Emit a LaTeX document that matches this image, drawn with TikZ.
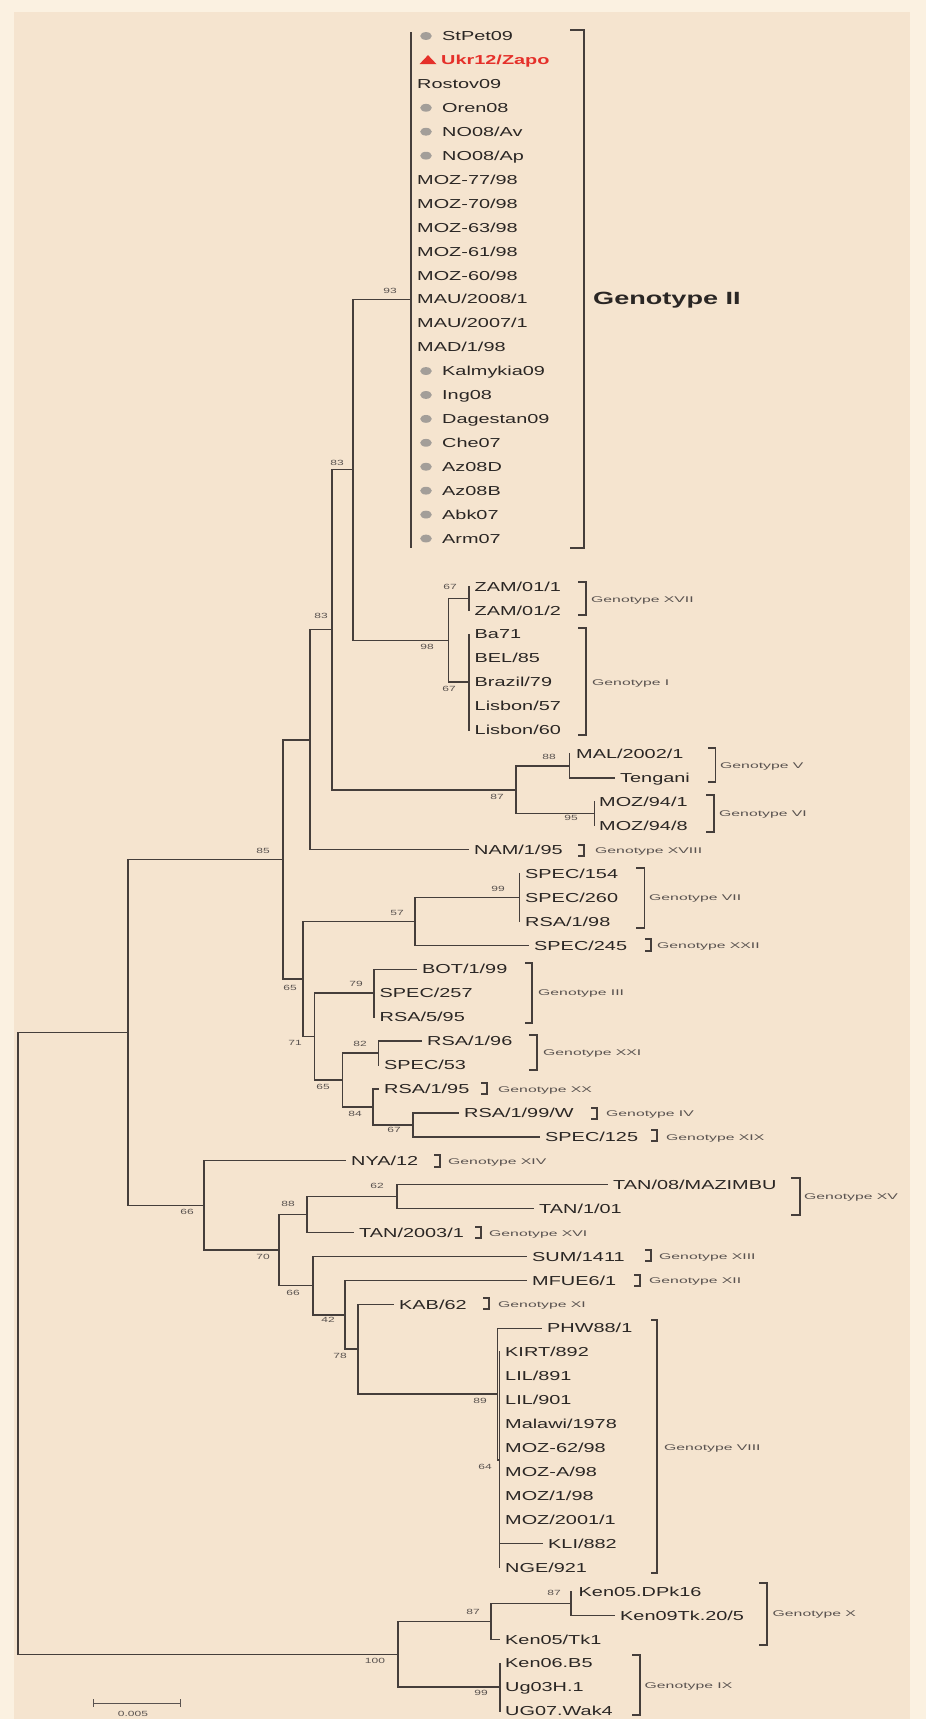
\documentclass[tikz,border=0pt]{standalone}
\usepackage{fontspec}
\setmainfont{Liberation Sans}
\newfontfamily\labf[FakeStretch=1.53]{Liberation Sans}
\newfontfamily\genf[FakeStretch=1.9]{Liberation Sans}
\newfontfamily\numf[FakeStretch=1.6]{Liberation Sans}
\usetikzlibrary{calc}
\definecolor{ln}{HTML}{453E3B}
\definecolor{tx}{HTML}{2A2624}
\definecolor{gy}{HTML}{5A5350}
\definecolor{dotc}{HTML}{A39E99}
\definecolor{redt}{HTML}{E5302A}
\definecolor{bgo}{HTML}{FBF1E1}
\definecolor{bgi}{HTML}{F5E4CF}
\newcommand\rowy[1]{36+23.93*(#1)}
\newcommand\Lf[4]{\node[leaf] (#1) at (#3,{\rowy{#2}}) {#4};}
\newcommand\Nd[3]{\coordinate (#1) at (#2,{\rowy{#3}});}
\newcommand\Vt[3]{\draw[br] (#1 |- #2) -- (#1 |- #3);}
\newcommand\Hz[2]{\draw[br] (#1 |- #2) -- (#2);}
\newcommand\Hl[2]{\draw[br] (#1 |- #2) -- ([xshift=-5.5pt]#2.west);}
\newcommand\Bk[4]{\draw[brk] (#4,#2) -- (#1,#2) -- (#1,#3) -- (#4,#3);}
\tikzset{
 br/.style={draw=ln, line width=1.45pt, line cap=rect},
 brk/.style={draw=ln, line width=1.4pt},
 leaf/.style={anchor=west, inner sep=0pt, text=tx, font=\labf\fontsize{13}{13}\selectfont, text height=9.4pt, text depth=0pt},
 gen/.style={anchor=west, inner sep=0pt, text=gy, font=\genf\fontsize{8.3}{8.3}\selectfont, text height=6pt, text depth=0pt},
 genbig/.style={anchor=west, inner sep=0pt, text=tx, font=\labf\bfseries\fontsize{17.7}{17.7}\selectfont, text height=12.7pt, text depth=0pt},
 sup/.style={inner sep=0pt, text=gy, font=\numf\fontsize{7.5}{7.5}\selectfont, text height=5.4pt, text depth=0pt},
}
\begin{document}
\begin{tikzpicture}[x=1pt,y=-1pt]
\useasboundingbox (0,0) rectangle (926,1719);
\fill[bgo] (0,0) rectangle (926,1719);
\fill[bgi] (14,12) rectangle (910,1719);

% ---------- leaves ----------
\Lf{g0}{0}{442}{StPet09}
\node[leaf, text=redt, font=\labf\bfseries\fontsize{13}{13}\selectfont] (g1) at (441,{\rowy{1}}) {Ukr12/Zapo};
\Lf{g2}{2}{417}{Rostov09}
\Lf{g3}{3}{442}{Oren08}
\Lf{g4}{4}{442}{NO08/Av}
\Lf{g5}{5}{442}{NO08/Ap}
\Lf{g6}{6}{417}{MOZ-77/98}
\Lf{g7}{7}{417}{MOZ-70/98}
\Lf{g8}{8}{417}{MOZ-63/98}
\Lf{g9}{9}{417}{MOZ-61/98}
\Lf{g10}{10}{417}{MOZ-60/98}
\Lf{g11}{11}{417}{MAU/2008/1}
\Lf{g12}{12}{417}{MAU/2007/1}
\Lf{g13}{13}{417}{MAD/1/98}
\Lf{g14}{14}{442}{Kalmykia09}
\Lf{g15}{15}{442}{Ing08}
\Lf{g16}{16}{442}{Dagestan09}
\Lf{g17}{17}{442}{Che07}
\Lf{g18}{18}{442}{Az08D}
\Lf{g19}{19}{442}{Az08B}
\Lf{g20}{20}{442}{Abk07}
\Lf{g21}{21}{442}{Arm07}
\Lf{zam1}{23}{474.5}{ZAM/01/1}
\Lf{zam2}{24}{474.5}{ZAM/01/2}
\Lf{ba71}{25}{474.5}{Ba71}
\Lf{bel}{26}{474.5}{BEL/85}
\Lf{bra}{27}{474.5}{Brazil/79}
\Lf{lis57}{28}{474.5}{Lisbon/57}
\Lf{lis60}{29}{474.5}{Lisbon/60}
\Lf{mal}{30}{576}{MAL/2002/1}
\Lf{teng}{31}{620}{Tengani}
\Lf{mza}{32}{599}{MOZ/94/1}
\Lf{mzb}{33}{599}{MOZ/94/8}
\Lf{nam}{34}{474}{NAM/1/95}
\Lf{sp154}{35}{525}{SPEC/154}
\Lf{sp260}{36}{525}{SPEC/260}
\Lf{rsa198}{37}{525}{RSA/1/98}
\Lf{sp245}{38}{534}{SPEC/245}
\Lf{bot}{39}{422}{BOT/1/99}
\Lf{sp257}{40}{379.5}{SPEC/257}
\Lf{rsa595}{41}{379.5}{RSA/5/95}
\Lf{rsa196}{42}{427}{RSA/1/96}
\Lf{sp53}{43}{384}{SPEC/53}
\Lf{rsa195}{44}{384}{RSA/1/95}
\Lf{rsaw}{45}{464}{RSA/1/99/W}
\Lf{sp125}{46}{545}{SPEC/125}
\Lf{nya}{47}{351}{NYA/12}
\Lf{tan08}{48}{613}{TAN/08/MAZIMBU}
\Lf{tan101}{49}{539}{TAN/1/01}
\Lf{tan03}{50}{359}{TAN/2003/1}
\Lf{sum}{51}{532}{SUM/1411}
\Lf{mfue}{52}{532}{MFUE6/1}
\Lf{kab}{53}{399}{KAB/62}
\Lf{phw}{54}{547}{PHW88/1}
\Lf{kirt}{55}{505}{KIRT/892}
\Lf{lil891}{56}{505}{LIL/891}
\Lf{lil901}{57}{505}{LIL/901}
\Lf{malawi}{58}{505}{Malawi/1978}
\Lf{moz62}{59}{505}{MOZ-62/98}
\Lf{moza}{60}{505}{MOZ-A/98}
\Lf{moz198}{61}{505}{MOZ/1/98}
\Lf{moz2001}{62}{505}{MOZ/2001/1}
\Lf{kli}{63}{548}{KLI/882}
\Lf{nge}{64}{505}{NGE/921}
\Lf{kdpk}{65}{578.5}{Ken05.DPk16}
\Lf{ktk20}{66}{620}{Ken09Tk.20/5}
\Lf{ktk1}{67}{505}{Ken05/Tk1}
\Lf{ken06}{68}{505}{Ken06.B5}
\Lf{ug03}{69}{505}{Ug03H.1}
\Lf{ug07}{70}{505}{UG07.Wak4}

% dots and triangle
\foreach \r in {0,3,4,5,14,15,16,17,18,19,20,21}
  \fill[dotc] (426,{\rowy{\r}}) ellipse [x radius=5.8pt, y radius=3.9pt];
\fill[redt] (419.5,{\rowy{1}+4.2}) -- (436.5,{\rowy{1}+4.2}) -- (428,{\rowy{1}-4.8}) -- cycle;

% ---------- internal nodes ----------
\Nd{n93}{411}{11}
\Nd{nZAM}{469}{23.5}
\Nd{nGI}{469}{27}
\Nd{n98}{448.6}{25.25}
\Nd{nA}{353}{18.125}
\Nd{n88}{569.4}{30.5}
\Nd{n95}{594.6}{32.5}
\Nd{n87}{516}{31.5}
\Nd{nB}{332}{24.81}
\Nd{nC}{310}{29.41}
\Nd{n99}{519.4}{36}
\Nd{nG}{415}{37}
\Nd{n79}{374}{40}
\Nd{n82}{378.5}{42.5}
\Nd{n67}{413}{45.5}
\Nd{n84}{373}{44.75}
\Nd{nI}{342.7}{43.625}
\Nd{nH}{314.7}{41.81}
\Nd{nF}{303}{39.41}
\Nd{nD}{283}{34.41}
\Nd{n62}{397}{48.5}
\Nd{n88b}{307}{49.25}
\Nd{n64}{499.5}{59.5}
\Nd{n89}{497.5}{56.75}
\Nd{n78}{358}{54.875}
\Nd{nL}{345}{53.44}
\Nd{n66b}{313}{52.22}
\Nd{nK}{279}{50.73}
\Nd{nJ}{204}{48.87}
\Nd{nE}{128}{41.64}
\Nd{n87b}{571}{65.5}
\Nd{n87c}{491}{66.25}
\Nd{n99b}{500}{69}
\Nd{n100}{398}{67.625}
\Nd{nR}{18}{54.6}

% ---------- branches ----------
\draw[br] ($(n93|-g0)+(0,-3)$) -- ($(n93|-g21)+(0,9)$);
\Vt{nZAM}{zam1}{zam2}
\Vt{nGI}{ba71}{lis60}
\Vt{n98}{nZAM}{nGI} \Hz{n98}{nZAM} \Hz{n98}{nGI}
\Vt{nA}{n93}{n98} \Hz{nA}{n93} \Hz{nA}{n98}
\Vt{n88}{mal}{teng} \Hl{n88}{teng}
\Vt{n95}{mza}{mzb}
\Vt{n87}{n88}{n95} \Hz{n87}{n88} \Hz{n87}{n95}
\Vt{nB}{nA}{n87} \Hz{nB}{nA} \Hz{nB}{n87}
\Vt{nC}{nB}{nam} \Hz{nC}{nB} \Hl{nC}{nam}
\Vt{n99}{sp154}{rsa198}
\Vt{nG}{n99}{sp245} \Hz{nG}{n99} \Hl{nG}{sp245}
\Vt{n79}{bot}{rsa595} \Hl{n79}{bot}
\Vt{n82}{rsa196}{sp53} \Hl{n82}{rsa196}
\Vt{n67}{rsaw}{sp125} \Hl{n67}{rsaw} \Hl{n67}{sp125}
\Vt{n84}{rsa195}{n67} \Hl{n84}{rsa195} \Hz{n84}{n67}
\Vt{nI}{n82}{n84} \Hz{nI}{n82} \Hz{nI}{n84}
\Vt{nH}{n79}{nI} \Hz{nH}{n79} \Hz{nH}{nI}
\Vt{nF}{nG}{nH} \Hz{nF}{nG} \Hz{nF}{nH}
\Vt{nD}{nC}{nF} \Hz{nD}{nC} \Hz{nD}{nF}
\Vt{n62}{tan08}{tan101} \Hl{n62}{tan08} \Hl{n62}{tan101}
\Vt{n88b}{n62}{tan03} \Hz{n88b}{n62} \Hl{n88b}{tan03}
\Vt{n64}{kirt}{nge} \Hl{n64}{kli}
\Vt{n89}{phw}{n64} \Hl{n89}{phw} \Hz{n89}{n64}
\Vt{n78}{kab}{n89} \Hl{n78}{kab} \Hz{n78}{n89}
\Vt{nL}{mfue}{n78} \Hl{nL}{mfue} \Hz{nL}{n78}
\Vt{n66b}{sum}{nL} \Hl{n66b}{sum} \Hz{n66b}{nL}
\Vt{nK}{n88b}{n66b} \Hz{nK}{n88b} \Hz{nK}{n66b}
\Vt{nJ}{nya}{nK} \Hl{nJ}{nya} \Hz{nJ}{nK}
\Vt{nE}{nD}{nJ} \Hz{nE}{nD} \Hz{nE}{nJ}
\Vt{n87b}{kdpk}{ktk20} \Hl{n87b}{ktk20}
\Vt{n87c}{n87b}{ktk1} \Hz{n87c}{n87b} \Hl{n87c}{ktk1}
\Vt{n99b}{ken06}{ug07}
\Vt{n100}{n87c}{n99b} \Hz{n100}{n87c} \Hz{n100}{n99b}
\Vt{nR}{nE}{n100} \Hz{nR}{nE} \Hz{nR}{n100}

% ---------- support values ----------
\node[sup] (s1) at (390,291) {93};
\node[sup] (s2) at (337,463) {83};
\node[sup] (s3) at (321,616) {83};
\node[sup] (s4) at (450,587) {67};
\node[sup] (s5) at (427,647) {98};
\node[sup] (s6) at (449,689) {67};
\node[sup] (s7) at (549,757) {88};
\node[sup] (s8) at (497,797) {87};
\node[sup] (s9) at (571,818) {95};
\node[sup] (s10) at (263,851) {85};
\node[sup] (s11) at (498,889) {99};
\node[sup] (s12) at (397,913) {57};
\node[sup] (s13) at (290,988) {65};
\node[sup] (s14) at (356,984) {79};
\node[sup] (s15) at (295,1043) {71};
\node[sup] (s16) at (360,1044) {82};
\node[sup] (s17) at (323,1087) {65};
\node[sup] (s18) at (355,1114) {84};
\node[sup] (s19) at (394,1130) {67};
\node[sup] (s20) at (187,1212) {66};
\node[sup] (s21) at (377,1186) {62};
\node[sup] (s22) at (288,1204) {88};
\node[sup] (s23) at (263,1257) {70};
\node[sup] (s24) at (293,1293) {66};
\node[sup] (s25) at (328,1320) {42};
\node[sup] (s26) at (340,1356) {78};
\node[sup] (s27) at (480,1401) {89};
\node[sup] (s28) at (485,1467) {64};
\node[sup] (s29) at (554,1593) {87};
\node[sup] (s30) at (473,1612) {87};
\node[sup] (s31) at (375,1661) {100};
\node[sup] (s32) at (481,1693) {99};

% ---------- genotype brackets ----------
\Bk{584}{30}{548}{570}
\Bk{586}{582}{615}{578}
\Bk{586}{628}{735}{578}
\Bk{715.5}{748}{782}{708}
\Bk{714}{795}{832}{706}
\Bk{584}{845}{856}{578}
\Bk{644.5}{868}{928}{636}
\Bk{651}{939}{951}{645}
\Bk{532}{963}{1023}{525}
\Bk{537}{1035}{1070}{529}
\Bk{487}{1083}{1094}{481}
\Bk{597}{1108}{1119}{591}
\Bk{657}{1130}{1141}{651}
\Bk{440}{1155}{1167}{434}
\Bk{800}{1178}{1215}{791}
\Bk{481}{1227}{1238}{475}
\Bk{651}{1250}{1261}{645}
\Bk{640}{1275}{1286}{634}
\Bk{489}{1298}{1309}{483}
\Bk{657}{1320}{1573}{651}
\Bk{767}{1583}{1645}{759}
\Bk{640}{1655}{1715}{632}

\node[genbig] (tII) at (593,298) {Genotype II};
\node[gen] (tXVII) at (591,599) {Genotype XVII};
\node[gen] (tI) at (592,682) {Genotype I};
\node[gen] (tV) at (720,765) {Genotype V};
\node[gen] (tVI) at (719,813) {Genotype VI};
\node[gen] (tXVIII) at (595,850) {Genotype XVIII};
\node[gen] (tVII) at (649,897) {Genotype VII};
\node[gen] (tXXII) at (657,945) {Genotype XXII};
\node[gen] (tIII) at (538,992) {Genotype III};
\node[gen] (tXXI) at (543,1052) {Genotype XXI};
\node[gen] (tXX) at (498,1089) {Genotype XX};
\node[gen] (tIV) at (606,1113) {Genotype IV};
\node[gen] (tXIX) at (666,1137) {Genotype XIX};
\node[gen] (tXIV) at (448,1161) {Genotype XIV};
\node[gen] (tXV) at (804,1196) {Genotype XV};
\node[gen] (tXVI) at (489,1233) {Genotype XVI};
\node[gen] (tXIII) at (659,1256) {Genotype XIII};
\node[gen] (tXII) at (649,1280) {Genotype XII};
\node[gen] (tXI) at (498,1304) {Genotype XI};
\node[gen] (tVIII) at (664,1447) {Genotype VIII};
\node[gen] (tX) at (772.5,1613) {Genotype X};
\node[gen] (tIX) at (644.5,1685) {Genotype IX};

% ---------- scale bar ----------
\draw[draw=gy, line width=0.9pt] (93,1703) -- (180,1703);
\draw[draw=gy, line width=0.9pt] (93,1699) -- (93,1707);
\draw[draw=gy, line width=0.9pt] (180,1699) -- (180,1707);
\node[sup] (scl) at (133,1713.5) {0.005};
\end{tikzpicture}
\end{document}
